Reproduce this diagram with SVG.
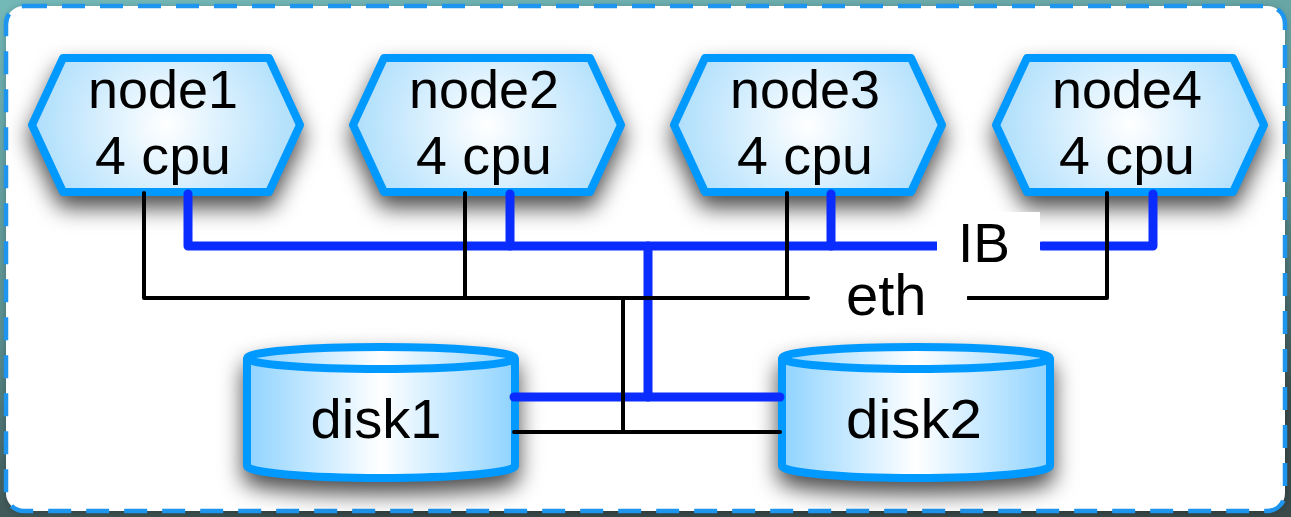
<svg xmlns="http://www.w3.org/2000/svg" width="1291" height="517" viewBox="0 0 1291 517">
  <defs>
    <linearGradient id="bgGrad" x1="0" y1="0" x2="0.3" y2="1">
      <stop offset="0" stop-color="#74b9b9"/>
      <stop offset="0.6" stop-color="#5b8f8f"/>
      <stop offset="1" stop-color="#3a4a4a"/>
    </linearGradient>
    <radialGradient id="hexGrad" cx="0.5" cy="0.5" r="0.62" fx="0.5" fy="0.5" gradientTransform="translate(0.5 0.5) scale(1 1.9) translate(-0.5 -0.5)">
      <stop offset="0" stop-color="#ffffff"/>
      <stop offset="1" stop-color="#99d6fb"/>
    </radialGradient>
    <linearGradient id="cylGrad" x1="0" y1="0" x2="1" y2="0">
      <stop offset="0" stop-color="#8fd3ff"/>
      <stop offset="0.5" stop-color="#ffffff"/>
      <stop offset="1" stop-color="#8fd3ff"/>
    </linearGradient>
    <filter id="shadow" x="-25%" y="-40%" width="150%" height="200%" color-interpolation-filters="sRGB">
      <feGaussianBlur in="SourceAlpha" stdDeviation="11" result="blur"/>
      <feOffset in="blur" dx="0" dy="12" result="off"/>
      <feFlood flood-color="#000000" flood-opacity="0.7" result="col"/>
      <feComposite in="col" in2="off" operator="in" result="sh"/>
      <feMerge>
        <feMergeNode in="sh"/>
        <feMergeNode in="SourceGraphic"/>
      </feMerge>
    </filter>
    <filter id="boxShadow" x="-5%" y="-5%" width="110%" height="110%">
      <feDropShadow dx="0" dy="2" stdDeviation="4" flood-color="#000000" flood-opacity="0.25"/>
    </filter>
  </defs>
  <style>
    .hex { fill: url(#hexGrad); stroke: #0099ff; stroke-width: 8; stroke-linejoin: round; }
    .cyl { fill: url(#cylGrad); stroke: #0099ff; stroke-width: 8; stroke-linejoin: round; }
    .lbl { font-family: "Liberation Sans", Arial, Helvetica, sans-serif; fill: #000000; }
    .ib { fill: none; stroke: #0a2cff; stroke-width: 9; stroke-linecap: round; stroke-linejoin: round; }
    .eth { fill: none; stroke: #000000; stroke-width: 4; stroke-linecap: round; stroke-linejoin: round; }
  </style>

  <rect x="0" y="0" width="1291" height="517" fill="url(#bgGrad)"/>
  <g id="frame">
    <rect x="6" y="6" width="1279" height="505" rx="18" ry="18" fill="#ffffff" filter="url(#boxShadow)"/>
    <rect x="6" y="6" width="1279" height="505" rx="18" ry="18" fill="none" stroke="#1e96f0" stroke-width="4.5" stroke-dasharray="23 15"/>
  </g>

  <g id="node1" filter="url(#shadow)">
    <polygon class="hex" points="32,125 63,58 269,58 300,125 269,192 63,192"/>
  </g>
  <g id="node2" filter="url(#shadow)">
    <polygon class="hex" points="353,125 384,58 590,58 621,125 590,192 384,192"/>
  </g>
  <g id="node3" filter="url(#shadow)">
    <polygon class="hex" points="674,125 705,58 911,58 942,125 911,192 705,192"/>
  </g>
  <g id="node4" filter="url(#shadow)">
    <polygon class="hex" points="996,125 1027,58 1233,58 1264,125 1233,192 1027,192"/>
  </g>
  <g id="disk1" filter="url(#shadow)">
    <path class="cyl" d="M247,358 A134,11 0 0 1 515,358 V466 A134,12 0 0 1 247,466 Z"/>
    <path class="cyl" d="M247,358 A134,11 0 0 0 515,358"/>
  </g>
  <g id="disk2" filter="url(#shadow)">
    <path class="cyl" d="M782,358 A134,11 0 0 1 1050,358 V466 A134,12 0 0 1 782,466 Z"/>
    <path class="cyl" d="M782,358 A134,11 0 0 0 1050,358"/>
  </g>

  <g id="connectors">
    <path class="ib" d="M188,194 V246 H936"/>
    <path class="ib" d="M510,194 V246"/>
    <path class="ib" d="M831,194 V246"/>
    <path class="ib" d="M1042,246 H1153 V194"/>
    <path class="ib" d="M648,246 V397"/>
    <path class="ib" d="M514,397 H780"/>
    <path class="eth" d="M144,193 V298 H808"/>
    <path class="eth" d="M465,193 V298"/>
    <path class="eth" d="M787,193 V298"/>
    <path class="eth" d="M968,298 H1107 V193"/>
    <path class="eth" d="M623,298 V432"/>
    <path class="eth" d="M514,432 H780"/>
  </g>

  <g id="label-IB">
    <rect x="937" y="212" width="103" height="56" fill="#ffffff"/>
    <text class="lbl" x="958" y="262" font-size="55">IB</text>
  </g>
  <g id="label-eth">
    <rect x="810" y="274" width="157" height="54" fill="#ffffff"/>
    <text class="lbl" x="846" y="315" font-size="58">eth</text>
  </g>

  <g id="text-node1" class="lbl" font-size="53" text-anchor="middle">
    <text x="163" y="108" textLength="150" lengthAdjust="spacingAndGlyphs">node1</text>
    <text x="163" y="174" textLength="136" lengthAdjust="spacingAndGlyphs">4 cpu</text>
  </g>
  <g id="text-node2" class="lbl" font-size="53" text-anchor="middle">
    <text x="484" y="108" textLength="150" lengthAdjust="spacingAndGlyphs">node2</text>
    <text x="484" y="174" textLength="136" lengthAdjust="spacingAndGlyphs">4 cpu</text>
  </g>
  <g id="text-node3" class="lbl" font-size="53" text-anchor="middle">
    <text x="805" y="108" textLength="150" lengthAdjust="spacingAndGlyphs">node3</text>
    <text x="805" y="174" textLength="136" lengthAdjust="spacingAndGlyphs">4 cpu</text>
  </g>
  <g id="text-node4" class="lbl" font-size="53" text-anchor="middle">
    <text x="1127" y="108" textLength="150" lengthAdjust="spacingAndGlyphs">node4</text>
    <text x="1127" y="174" textLength="136" lengthAdjust="spacingAndGlyphs">4 cpu</text>
  </g>
  <g id="text-disks" class="lbl" font-size="55" text-anchor="middle">
    <text x="376" y="438" textLength="131" lengthAdjust="spacingAndGlyphs">disk1</text>
    <text x="914" y="438" textLength="136" lengthAdjust="spacingAndGlyphs">disk2</text>
  </g>
</svg>
